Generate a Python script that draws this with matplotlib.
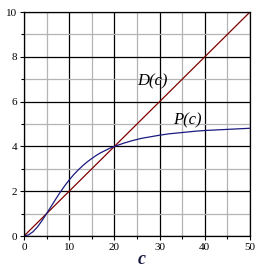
import matplotlib
matplotlib.use('Agg')
import matplotlib.pyplot as plt
from matplotlib.ticker import MultipleLocator

# values
c_d = [0, 50]
d_vals = [0, 10]

c_p = [0, 1, 2, 3, 4, 5, 6, 7, 8, 9, 10, 11, 12, 13, 14, 15, 16, 17, 18, 19, 20,
       22, 24, 26, 28, 30, 32, 34, 36, 38, 40, 42, 44, 46, 48, 50]
p_vals = [0.0, 0.05, 0.19, 0.41, 0.69, 1.0, 1.32, 1.64, 1.95, 2.24, 2.5, 2.74,
          2.95, 3.14, 3.31, 3.46, 3.6, 3.72, 3.82, 3.92, 4.0,
          4.14, 4.26, 4.36, 4.43, 4.5, 4.56, 4.6, 4.64, 4.68, 4.71, 4.73,
          4.75, 4.77, 4.79, 4.81]

plt.rcParams['font.family'] = ['Liberation Serif', 'DejaVu Serif']

fig = plt.figure(figsize=(2.70, 2.73), dpi=100)
ax = fig.add_axes([24/270, 1 - 236/273, 226/270, 224/273])

ax.xaxis.set_major_locator(MultipleLocator(10))
ax.xaxis.set_minor_locator(MultipleLocator(5))
ax.yaxis.set_major_locator(MultipleLocator(2))
ax.yaxis.set_minor_locator(MultipleLocator(1))
ax.grid(which='minor', color='#b4b4b4', linewidth=0.9)
ax.grid(which='major', color='black', linewidth=0.9)
ax.set_axisbelow(True)

ax.plot(c_d, d_vals, color='#800000', linewidth=0.9)
ax.plot(c_p, p_vals, color='#1a1a80', linewidth=0.9)

ax.set_xlim(0, 50)
ax.set_ylim(0, 10)
ax.tick_params(which='major', direction='out', length=3, width=0.8, labelsize=8, pad=2)
ax.tick_params(which='minor', direction='out', length=2, width=0.8)
for s in ax.spines.values():
    s.set_linewidth(0.9)

ax.text(28.4, 6.9, 'D(c)', fontsize=12, style='italic', ha='center', va='center')
ax.text(36.1, 5.18, 'P(c)', fontsize=12, style='italic', ha='center', va='center')
fig.text(142/270, 1 - 260/273, 'c', fontsize=13, style='italic', fontweight='bold',
         color='#1a1a40', ha='center', va='center')

fig.savefig('out.png', dpi=100)
